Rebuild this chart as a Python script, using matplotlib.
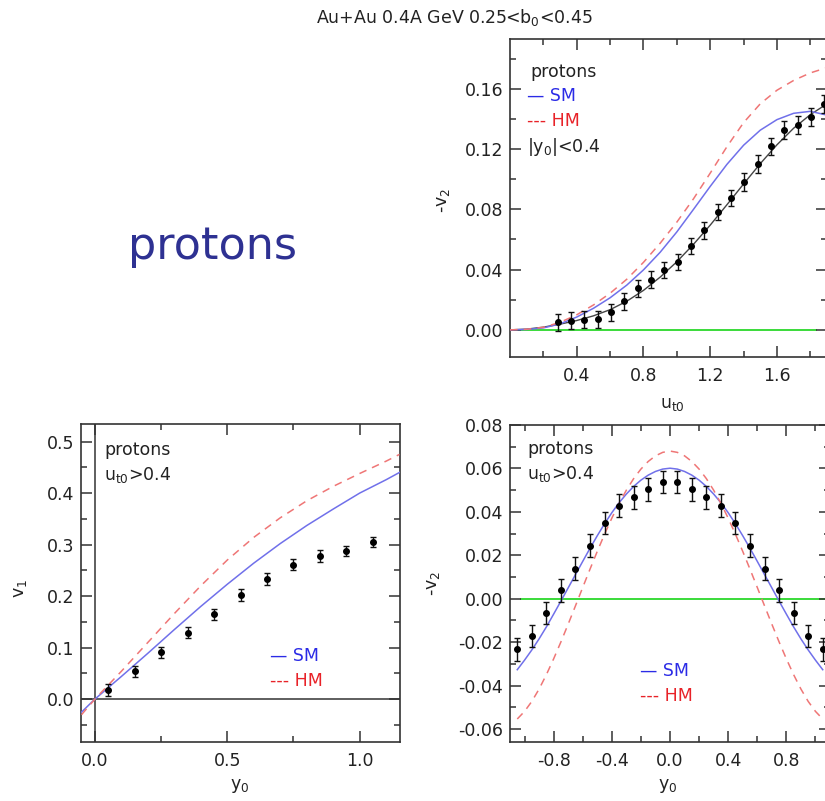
import numpy as np
import matplotlib
matplotlib.use("Agg")
import matplotlib.pyplot as plt
from matplotlib.ticker import MultipleLocator, FixedLocator, FormatStrFormatter

plt.rcParams["font.family"] = "DejaVu Sans"
plt.rcParams["axes.unicode_minus"] = False
plt.rcParams["mathtext.default"] = "regular"

W, H = 825, 801

# ---- -v2 vs u_t0, |y0| < 0.4 ----
ut_data = [0.285, 0.365, 0.445, 0.525, 0.605, 0.685, 0.765, 0.845, 0.925, 1.005, 1.085,
           1.165, 1.245, 1.325, 1.405, 1.485, 1.565, 1.645, 1.725, 1.805, 1.885]
v2_ut_data = [0.0049, 0.0062, 0.0067, 0.0069, 0.0116, 0.0189, 0.0276, 0.0333, 0.0396, 0.0451, 0.0556,
              0.0660, 0.0782, 0.0876, 0.0982, 0.1100, 0.1218, 0.1327, 0.1360, 0.1411, 0.1500]
v2_ut_err = [0.0055, 0.0055, 0.0055, 0.0055, 0.0055, 0.0055, 0.0055, 0.0055, 0.0055, 0.0055, 0.0055,
             0.0055, 0.0055, 0.0055, 0.0058, 0.0058, 0.0058, 0.0058, 0.0060, 0.0060, 0.0060]
ut_curve = [0.0, 0.1, 0.2, 0.3, 0.4, 0.5, 0.6, 0.7, 0.8, 0.9, 1.0,
            1.1, 1.2, 1.3, 1.4, 1.5, 1.6, 1.7, 1.8, 1.9]
v2_ut_sm = [0.0, 0.0003, 0.0013, 0.0040, 0.0085, 0.0143, 0.0213, 0.0297, 0.0398, 0.0515, 0.0650,
            0.0800, 0.0952, 0.1098, 0.1225, 0.1325, 0.1395, 0.1437, 0.1450, 0.1425]
v2_ut_hm = [0.0, 0.0004, 0.0017, 0.0050, 0.0100, 0.0165, 0.0243, 0.0336, 0.0448, 0.0575, 0.0715,
            0.0870, 0.1040, 0.1215, 0.1375, 0.1500, 0.1590, 0.1655, 0.1705, 0.1740]
v2_ut_fit = [0.0, 0.0005, 0.0018, 0.0038, 0.0062, 0.0093, 0.0134, 0.0190, 0.0262, 0.0350, 0.0452,
             0.0568, 0.0695, 0.0830, 0.0968, 0.1103, 0.1228, 0.1338, 0.1428, 0.1500]

# ---- v1 vs y0, u_t0 > 0.4 ----
y0_v1 = [0.05, 0.15, 0.25, 0.35, 0.45, 0.55, 0.65, 0.75, 0.85, 0.95, 1.05]
v1_data = [0.018, 0.054, 0.091, 0.129, 0.165, 0.202, 0.233, 0.261, 0.278, 0.287, 0.305]
v1_err = [0.011, 0.011, 0.011, 0.011, 0.011, 0.011, 0.011, 0.011, 0.011, 0.010, 0.010]
y0_v1_curve = [-0.05, 0.0, 0.1, 0.2, 0.3, 0.4, 0.5, 0.6, 0.7, 0.8, 0.9, 1.0, 1.1, 1.15]
v1_sm = [-0.025, 0.0, 0.044, 0.089, 0.135, 0.180, 0.223, 0.264, 0.302, 0.337, 0.369, 0.400, 0.426, 0.440]
v1_hm = [-0.030, 0.0, 0.054, 0.110, 0.166, 0.220, 0.270, 0.314, 0.352, 0.385, 0.413, 0.438, 0.462, 0.475]

# ---- -v2 vs y0, u_t0 > 0.4 ----
y0_v2 = [-1.05, -0.95, -0.85, -0.75, -0.65, -0.55, -0.45, -0.35, -0.25, -0.15, -0.05,
         0.05, 0.15, 0.25, 0.35, 0.45, 0.55, 0.65, 0.75, 0.85, 0.95, 1.05]
v2_y0_data = [-0.0233, -0.0172, -0.0065, 0.0039, 0.0138, 0.0245, 0.0349, 0.0429, 0.0467, 0.0504, 0.0538,
              0.0538, 0.0504, 0.0467, 0.0429, 0.0349, 0.0245, 0.0138, 0.0039, -0.0065, -0.0172, -0.0233]
v2_y0_err = [0.0052] * 22
y0_v2_curve = np.round(np.arange(-1.05, 1.0501, 0.05), 2)
v2_y0_sm = [-0.0327, -0.0283, -0.0236, -0.0185, -0.0130, -0.0071, -0.0011, 0.0050, 0.0111, 0.0172, 0.0232,
            0.0290, 0.0345, 0.0396, 0.0442, 0.0482, 0.0517, 0.0546, 0.0569, 0.0586, 0.0597,
            0.0601,
            0.0597, 0.0586, 0.0569, 0.0546, 0.0517, 0.0482, 0.0442, 0.0396, 0.0345, 0.0290,
            0.0232, 0.0172, 0.0111, 0.0050, -0.0011, -0.0071, -0.0130, -0.0185, -0.0236, -0.0283, -0.0327]
v2_y0_hm = [-0.0554, -0.0519, -0.0473, -0.0416, -0.0350, -0.0277, -0.0199, -0.0117, -0.0033, 0.0052, 0.0136,
            0.0218, 0.0297, 0.0371, 0.0439, 0.0500, 0.0553, 0.0597, 0.0632, 0.0658, 0.0674,
            0.0680,
            0.0674, 0.0658, 0.0632, 0.0597, 0.0553, 0.0500, 0.0439, 0.0371, 0.0297, 0.0218,
            0.0136, 0.0052, -0.0033, -0.0117, -0.0199, -0.0277, -0.0350, -0.0416, -0.0473, -0.0519, -0.0554]

SM_LINE = "#7070ea"
HM_LINE = "#ef7676"
SM_TEXT = "#2b2be6"
HM_TEXT = "#e82228"
GREEN = "#3ada3a"
TXT = "#222222"
FS = 12.5


def box(left, top, right, bottom):
    return [left / W, 1 - bottom / H, (right - left) / W, (bottom - top) / H]


def at(x, y):
    return x / W, 1 - y / H


def style(ax):
    for s in ax.spines.values():
        s.set_color("#333333")
        s.set_linewidth(1.2)
    ax.tick_params(which="both", direction="in", top=True, right=True,
                   color="#333333", labelcolor=TXT, labelsize=FS, width=1.1)
    ax.tick_params(which="major", length=8)
    ax.tick_params(which="minor", length=4.5)
    ax.tick_params(axis="x", which="both", pad=7)
    ax.tick_params(axis="y", which="both", pad=5)


def data_points(ax, x, y, e):
    ax.errorbar(x, y, yerr=e, fmt="o", ms=4, mfc="black", mec="black",
                ecolor="#111111", elinewidth=1, capsize=2.5, capthick=1, zorder=4)


fig = plt.figure(figsize=(W / 100, H / 100), dpi=100)

fig.text(*at(454, 17), "Au+Au 0.4A GeV 0.25<b$_0$<0.45", ha="center", va="center",
         fontsize=FS, color=TXT)
fig.text(*at(213, 246), "protons", ha="center", va="center", fontsize=32, color="#2e3192")

# top right: -v2 vs u_t0
ax1 = fig.add_axes(box(510, 39, 827, 357))
ax1.hlines(0, 0, 1.84, color=GREEN, lw=1.4, zorder=1)
ax1.plot(ut_curve, v2_ut_fit, color="#444444", lw=1.0, zorder=2)
ax1.plot(ut_curve, v2_ut_sm, color=SM_LINE, lw=1.1, zorder=3)
ax1.plot(ut_curve, v2_ut_hm, color=HM_LINE, lw=1.1, ls=(0, (5, 4)), zorder=3)
data_points(ax1, ut_data, v2_ut_data, v2_ut_err)
ax1.set_xlim(0, 1.9)
ax1.set_ylim(-0.018, 0.193)
ax1.xaxis.set_major_locator(FixedLocator([0.4, 0.8, 1.2, 1.6]))
ax1.xaxis.set_minor_locator(FixedLocator([0.2, 0.6, 1.0, 1.4, 1.8]))
ax1.xaxis.set_major_formatter(FormatStrFormatter("%.1f"))
ax1.yaxis.set_major_locator(MultipleLocator(0.04))
ax1.yaxis.set_minor_locator(MultipleLocator(0.02))
ax1.yaxis.set_major_formatter(FormatStrFormatter("%.2f"))
style(ax1)
fig.text(*at(530, 72), "protons", ha="left", va="center", fontsize=FS, color=TXT)
fig.text(*at(527, 96), "— SM", ha="left", va="center", fontsize=FS, color=SM_TEXT)
fig.text(*at(527, 121), "--- HM", ha="left", va="center", fontsize=FS, color=HM_TEXT)
fig.text(*at(527, 147), "|y$_0$|<0.4", ha="left", va="center", fontsize=FS, color=TXT)
fig.text(*at(443, 200), "-v$_2$", ha="center", va="center", rotation=90, fontsize=FS, color=TXT)
fig.text(*at(672, 404), "u$_{t0}$", ha="center", va="center", fontsize=FS, color=TXT)

# bottom left: v1 vs y0
ax2 = fig.add_axes(box(81, 424, 400, 742))
ax2.axhline(0, color="#333333", lw=1.1, zorder=1)
ax2.axvline(0, color="#333333", lw=1.1, zorder=1)
ax2.plot(y0_v1_curve, v1_sm, color=SM_LINE, lw=1.1, zorder=3)
ax2.plot(y0_v1_curve, v1_hm, color=HM_LINE, lw=1.1, ls=(0, (5, 4)), zorder=3)
data_points(ax2, y0_v1, v1_data, v1_err)
ax2.set_xlim(-0.052, 1.152)
ax2.set_ylim(-0.083, 0.534)
ax2.xaxis.set_major_locator(MultipleLocator(0.5))
ax2.xaxis.set_minor_locator(MultipleLocator(0.25))
ax2.xaxis.set_major_formatter(FormatStrFormatter("%.1f"))
ax2.yaxis.set_major_locator(MultipleLocator(0.1))
ax2.yaxis.set_minor_locator(MultipleLocator(0.05))
ax2.yaxis.set_major_formatter(FormatStrFormatter("%.1f"))
style(ax2)
fig.text(*at(104, 450), "protons", ha="left", va="center", fontsize=FS, color=TXT)
fig.text(*at(104, 475), "u$_{t0}$>0.4", ha="left", va="center", fontsize=FS, color=TXT)
fig.text(*at(270, 656), "— SM", ha="left", va="center", fontsize=FS, color=SM_TEXT)
fig.text(*at(270, 681), "--- HM", ha="left", va="center", fontsize=FS, color=HM_TEXT)
fig.text(*at(20, 588), "v$_1$", ha="center", va="center", rotation=90, fontsize=FS, color=TXT)
fig.text(*at(240, 786), "y$_0$", ha="center", va="center", fontsize=FS, color=TXT)

# bottom right: -v2 vs y0
ax3 = fig.add_axes(box(510, 425, 830, 742))
ax3.hlines(0, -1.03, 1.1, color=GREEN, lw=1.4, zorder=1)
ax3.plot(y0_v2_curve, v2_y0_sm, color=SM_LINE, lw=1.1, zorder=3)
ax3.plot(y0_v2_curve, v2_y0_hm, color=HM_LINE, lw=1.1, ls=(0, (5, 4)), zorder=3)
data_points(ax3, y0_v2, v2_y0_data, v2_y0_err)
ax3.set_xlim(-1.1, 1.1)
ax3.set_ylim(-0.066, 0.08)
ax3.xaxis.set_major_locator(MultipleLocator(0.4))
ax3.xaxis.set_minor_locator(MultipleLocator(0.2))
ax3.xaxis.set_major_formatter(FormatStrFormatter("%.1f"))
ax3.yaxis.set_major_locator(MultipleLocator(0.02))
ax3.yaxis.set_minor_locator(MultipleLocator(0.01))
ax3.yaxis.set_major_formatter(FormatStrFormatter("%.2f"))
style(ax3)
fig.text(*at(527, 449), "protons", ha="left", va="center", fontsize=FS, color=TXT)
fig.text(*at(527, 474), "u$_{t0}$>0.4", ha="left", va="center", fontsize=FS, color=TXT)
fig.text(*at(640, 671), "— SM", ha="left", va="center", fontsize=FS, color=SM_TEXT)
fig.text(*at(640, 696), "--- HM", ha="left", va="center", fontsize=FS, color=HM_TEXT)
fig.text(*at(433, 583), "-v$_2$", ha="center", va="center", rotation=90, fontsize=FS, color=TXT)
fig.text(*at(668, 786), "y$_0$", ha="center", va="center", fontsize=FS, color=TXT)

fig.savefig("out.png", dpi=100)
